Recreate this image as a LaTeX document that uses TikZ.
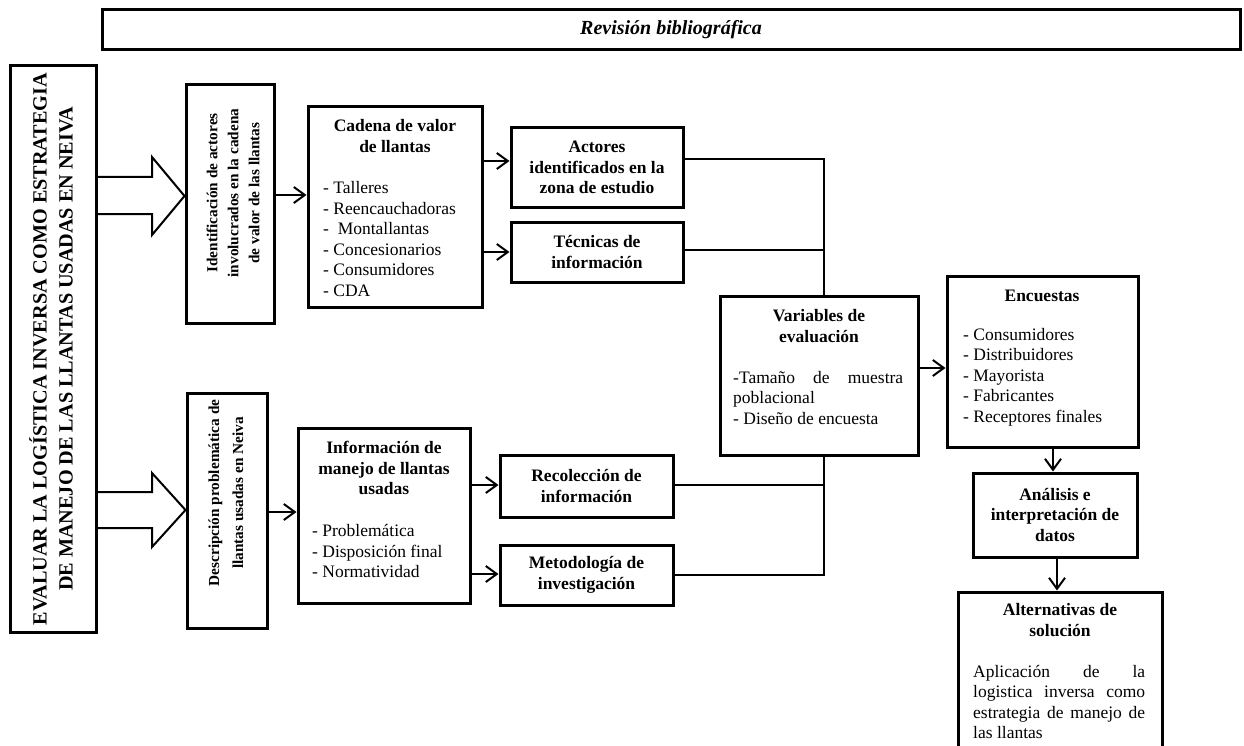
\documentclass[tikz,border=0pt]{standalone}
\usepackage{fontspec}
\setmainfont{Liberation Serif}
\usetikzlibrary{arrows.meta,calc}
\hyphenpenalty=10000 \exhyphenpenalty=10000 \hbadness=10000 \tolerance=10000
\setlength{\parindent}{0pt}
\newcommand{\fsz}{\fontsize{17.5}{20.5}\selectfont}
\begin{document}
\begin{tikzpicture}[x=1pt,y=-1pt,
  box/.style={draw,line width=3pt,inner sep=0pt,fill=white},
  cbox/.style={box,font=\fsz\bfseries,align=center},
  hd/.style={inner sep=0pt,font=\fsz\bfseries,align=center},
  lst/.style={inner sep=0pt,font=\fsz,align=left,anchor=west},
  jst/.style={inner sep=0pt,font=\fsz,align=justify,anchor=west},
  conn/.style={line width=2pt},
  arr/.style={line width=2pt,-{Straight Barb[length=11pt,width=16pt]}},
  hollow/.style={line width=2pt,line join=miter}
]
\useasboundingbox (0,0) rectangle (1244,746);
\clip (0,0) rectangle (1244,746);

% top box
\node[box,minimum width=1138pt,minimum height=40pt,font=\fontsize{20}{22}\selectfont\bfseries\itshape] (rev) at (671,30) {Revisión bibliográfica};

% left vertical box
\node[box,minimum width=86pt,minimum height=566pt] (eval) at (53,349) {};
\node[hd,rotate=90,font=\fontsize{20.2}{26}\selectfont\bfseries] (evalt) at (51,349)
  {EVALUAR LA LOGÍSTICA INVERSA COMO ESTRATEGIA\\DE MANEJO DE LAS LLANTAS USADAS EN NEIVA};

% second column
\node[box,minimum width=88pt,minimum height=238pt] (ident) at (230,204) {};
\node[hd,rotate=90,font=\fontsize{15.3}{21}\selectfont\bfseries] (identt) at (233,193)
  {Identificación de actores\\involucrados en la cadena\\de valor de las llantas};
\node[box,minimum width=80pt,minimum height=235pt] (desc) at (227,510.5) {};
\node[hd,rotate=90,font=\fontsize{15.3}{24}\selectfont\bfseries] (desct) at (226,493)
  {Descripción problemática de\\llantas usadas en Neiva};

% third column
\node[box,minimum width=174pt,minimum height=200pt] (cad) at (395,207) {};
\node[hd] (cadh) at (395,136) {Cadena de valor\\de llantas};
\node[lst] (cadl) at (323,239) {- Talleres\\- Reencauchadoras\\-~ Montallantas\\- Concesionarios\\- Consumidores\\- CDA};

\node[box,minimum width=172pt,minimum height=175pt] (info) at (384,515.5) {};
\node[hd] (infoh) at (384,468) {Información de\\manejo de llantas\\usadas};
\node[lst] (infol) at (312,551) {- Problemática\\- Disposición final\\- Normatividad};

% fourth column
\node[cbox,minimum width=172pt,minimum height=79pt] (act) at (597,167.5) {Actores\\identificados en la\\zona de estudio};
\node[cbox,minimum width=172pt,minimum height=60pt] (tec) at (597,252) {Técnicas de\\información};
\node[cbox,minimum width=173pt,minimum height=62pt] (rec) at (586.5,486) {Recolección de\\información};
\node[cbox,minimum width=173pt,minimum height=60pt] (met) at (586.5,575) {Metodología de\\investigación};

% variables
\node[box,minimum width=198pt,minimum height=159pt] (var) at (819,375.5) {};
\node[hd] (varh) at (819,326) {Variables de\\evaluación};
\node[jst,text width=170pt] (varl) at (733,398) {-Tamaño de muestra\linebreak poblacional\\- Diseño de encuesta};

% encuestas
\node[box,minimum width=191pt,minimum height=171pt] (enc) at (1042.5,361.5) {};
\node[hd] (ench) at (1042,296) {Encuestas};
\node[lst] (encl) at (963,377) {- Consumidores\\- Distribuidores\\- Mayorista\\- Fabricantes\\- Receptores finales};

% analisis
\node[cbox,minimum width=164pt,minimum height=84pt] (ana) at (1055,515) {Análisis e\\interpretación de\\datos};

% alternativas
\node[box,minimum width=204pt,minimum height=188pt] (alt) at (1060,686) {};
\node[hd] (alth) at (1060,620) {Alternativas de\\solución};
\node[jst,text width=172pt] (altl) at (973,702) {Aplicación de la\linebreak logistica inversa como\linebreak estrategia de manejo de\linebreak las llantas};

% hollow arrows
\draw[hollow] (eval.east |- 0,177) -- (152,177) -- (152,157) -- (ident.west |- 0,196) -- (152,235) -- (152,214) -- (eval.east |- 0,214);
\draw[hollow] (eval.east |- 0,492) -- (152,492) -- (152,473) -- (desc.west |- 0,510) -- (152,547) -- (152,528) -- (eval.east |- 0,528);

% arrows
\draw[arr] (ident.east |- 0,195) -- (cad.west |- 0,195);
\draw[arr] (desc.east |- 0,512) -- (info.west |- 0,512);
\draw[arr] (cad.east |- 0,161) -- (act.west |- 0,161);
\draw[arr] (cad.east |- 0,252) -- (tec.west |- 0,252);
\draw[arr] (info.east |- 0,485) -- (rec.west |- 0,485);
\draw[arr] (info.east |- 0,574) -- (met.west |- 0,574);

% joining lines
\draw[conn] (act.east |- 0,159) -- (824,159) -- (var.north -| 824,0);
\draw[conn] (tec.east |- 0,250) -- (824,250);
\draw[conn] (rec.east |- 0,485) -- (824,485);
\draw[conn] (met.east |- 0,575) -- (824,575) -- (var.south -| 824,0);

\draw[arr] (var.east |- 0,368) -- (enc.west |- 0,368);
\draw[arr] (enc.south -| 1053,0) -- (ana.north -| 1053,0);
\draw[arr] (ana.south -| 1057,0) -- (alt.north -| 1057,0);
\end{tikzpicture}
\end{document}
